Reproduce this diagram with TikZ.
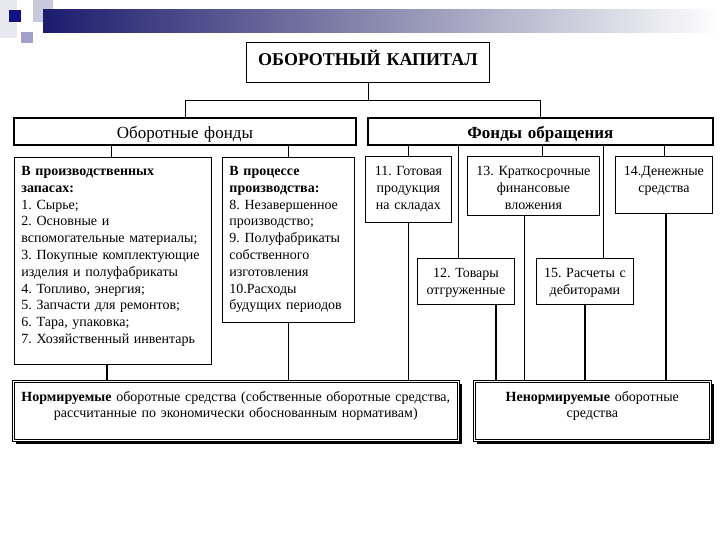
\documentclass[tikz,border=0pt]{standalone}
\usepackage{fontspec}
\setmainfont{Liberation Serif}

\definecolor{navy}{RGB}{28,28,110}
\definecolor{navydark}{RGB}{18,18,130}
\definecolor{barmid}{RGB}{140,140,176}
\definecolor{sqlight}{RGB}{200,200,222}
\definecolor{sqmid}{RGB}{160,160,200}
\definecolor{sqfaint}{RGB}{232,232,240}

\begin{document}
\begin{tikzpicture}[
  x=1pt, y=-1pt,
  lbl/.style={font=\frenchspacing\fontsize{14}{16.8}\selectfont},
  cell/.style={draw, line width=0.9pt, anchor=north west, inner xsep=0pt, inner ysep=0pt, align=center, text height=19pt, lbl},
  listcell/.style={cell, align=left, inner xsep=7pt, text height=18pt},
  head/.style={draw, line width=1.8pt, anchor=north west, inner sep=0pt, align=center, text height=21pt, text depth=6pt, font=\fontsize{17}{20}\selectfont},
  base/.style={draw, double, double distance=1.4pt, line width=0.6pt, fill=white, anchor=north west, inner xsep=2pt, inner ysep=0pt, align=center, text height=20pt, text depth=39pt, font=\frenchspacing\fontsize{14}{16}\selectfont},
  rim/.style={line width=3pt},
  link/.style={line width=0.8pt},
  feed/.style={line width=1.6pt}
]
\useasboundingbox (0,0) rectangle (720,540);
\fill[white] (0,0) rectangle (720,540);

% Title bar
\fill[sqfaint] (0,0) rectangle (17,38);
\fill[sqlight] (33,0) rectangle (53,22);
\fill[sqmid] (21,32) rectangle (33,43);
\shade[left color=navy, right color=white, middle color=barmid] (43,10) rectangle (720,33);
\fill[navydark] (9,10) rectangle (21,22);

% Top
\node[cell, text width=243pt, text height=23pt, text depth=17pt, font=\bfseries\fontsize{18}{20}\selectfont] (kapital) at (246,42) {ОБОРОТНЫЙ КАПИТАЛ};

% Funds
\node[head, text width=342pt] (fondy) at (13,117) {Оборотные фонды};
\node[head, text width=345pt, font=\bfseries\fontsize{17}{20}\selectfont] (obrash) at (367,117) {Фонды обращения};

% Working funds
\node[listcell, text width=183pt, text depth=189pt] (zapasy) at (14,157) {\textbf{В производственных}\\\textbf{запасах:}\\1. Сырье;\\2. Основные и\\вспомогательные материалы;\\3. Покупные комплектующие\\изделия и полуфабрикаты\\4. Топливо, энергия;\\5. Запчасти для ремонтов;\\6. Тара, упаковка;\\7. Хозяйственный инвентарь};
\node[listcell, text width=118pt, text depth=147pt] (process) at (222,157) {\textbf{В процессе}\\\textbf{производства:}\\8. Незавершенное\\производство;\\9. Полуфабрикаты\\собственного\\изготовления\\10.Расходы\\будущих периодов};

% Circulation funds
\node[cell, text width=86pt, text depth=47pt] (gotov) at (365,156) {11. Готовая\\продукция\\на складах};
\node[cell, text width=132pt, text depth=40pt] (vlozh) at (467,156) {13. Краткосрочные\\финансовые\\вложения};
\node[cell, text width=97pt, text depth=38pt] (dengi) at (615,156) {14.Денежные\\средства};
\node[cell, text width=97pt, text depth=27pt] (otgruz) at (417,258) {12. Товары\\отгруженные};
\node[cell, text width=97pt, text depth=27pt] (debit) at (536,258) {15. Расчеты с\\дебиторами};

% Outputs
\node[base, text width=441pt] (norm) at (13,381) {\textbf{Нормируемые} оборотные средства (собственные оборотные средства,\\рассчитанные по экономически обоснованным нормативам)};
\node[base, text width=232pt] (nenorm) at (474,381) {\textbf{Ненормируемые} оборотные\\средства};
\draw[rim] ([shift={(3pt,-1.5pt)}]norm.south west) -- ([shift={(1.5pt,-1.5pt)}]norm.south east) -- ([shift={(1.5pt,-3pt)}]norm.north east);
\draw[rim] ([shift={(3pt,-1.5pt)}]nenorm.south west) -- ([shift={(1.5pt,-1.5pt)}]nenorm.south east) -- ([shift={(1.5pt,-3pt)}]nenorm.north east);

% Connectors
\draw[link] (kapital.south) -- ++(0,18) coordinate (split);
\draw[link] (fondy.north) |- (split) -| (obrash.north);
\draw[link] ([xshift=-2pt]zapasy.north) -- ([xshift=-2pt]zapasy.north |- fondy.south);
\draw[link] (process.north) -- (process.north |- fondy.south);
\draw[link] (gotov.north) -- (gotov.north |- obrash.south);
\draw[link] ([xshift=-8pt]otgruz.north) -- ([xshift=-8pt]otgruz.north |- obrash.south);
\draw[link] ([xshift=9pt]vlozh.north) -- ([xshift=9pt]vlozh.north |- obrash.south);
\draw[link] ([xshift=18pt]debit.north) -- ([xshift=18pt]debit.north |- obrash.south);
\draw[link] (dengi.north) -- (dengi.north |- obrash.south);

\draw[feed] ([xshift=-6pt]zapasy.south) -- ([xshift=-6pt]zapasy.south |- norm.north);
\draw[feed] (process.south) -- (process.south |- norm.north);
\draw[feed] (gotov.south) -- (gotov.south |- norm.north);
\draw[feed] ([xshift=30pt]otgruz.south) -- ([xshift=30pt]otgruz.south |- nenorm.north);
\draw[link] ([xshift=-9pt]vlozh.south) -- ([xshift=-9pt]vlozh.south |- nenorm.north);
\draw[feed] (debit.south) -- (debit.south |- nenorm.north);
\draw[feed] ([xshift=2pt]dengi.south) -- ([xshift=2pt]dengi.south |- nenorm.north);

\end{tikzpicture}
\end{document}
